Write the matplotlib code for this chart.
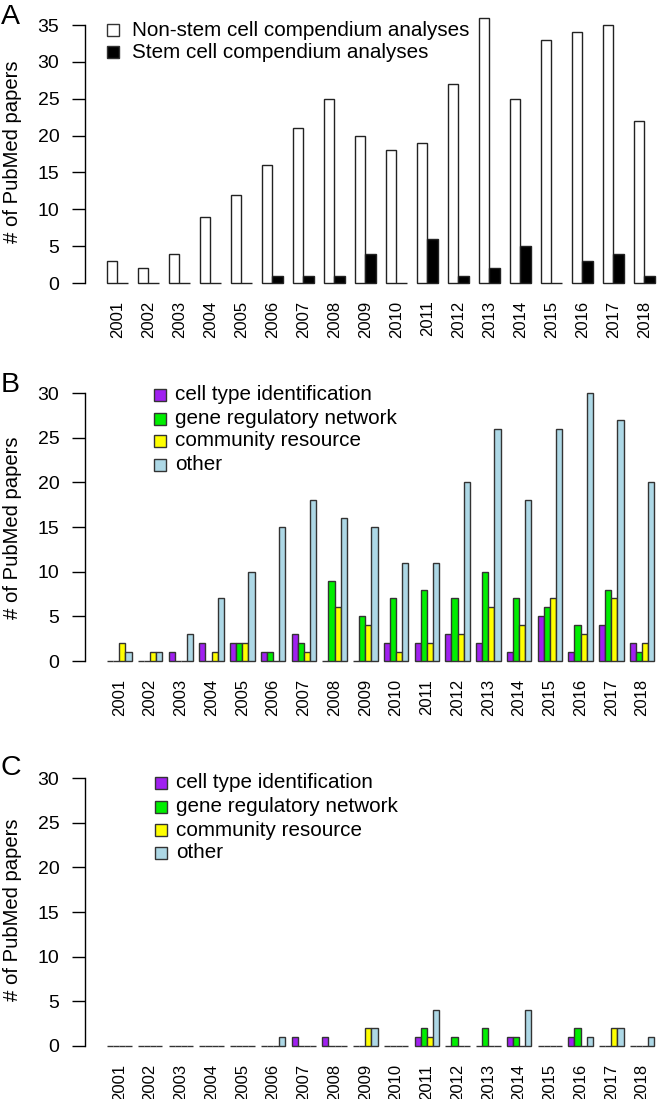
import numpy as np
import matplotlib
matplotlib.use("Agg")
import matplotlib.pyplot as plt
from matplotlib.patches import Rectangle

plt.rcParams["font.family"] = ["Liberation Sans", "DejaVu Sans"]

years = [str(y) for y in range(2001, 2019)]

# panel A
non_stem = [3, 2, 4, 9, 12, 16, 21, 25, 20, 18, 19, 27, 36, 25, 33, 34, 35, 22]
stem = [0, 0, 0, 0, 0, 1, 1, 1, 4, 0, 6, 1, 2, 5, 0, 3, 4, 1]

# panel B (non-stem cell)
cats = ["cell type identification", "gene regulatory network", "community resource", "other"]
b_cell = [0, 0, 1, 2, 2, 1, 3, 0, 0, 2, 2, 3, 2, 1, 5, 1, 4, 2]
b_gene = [0, 0, 0, 0, 2, 1, 2, 9, 5, 7, 8, 7, 10, 7, 6, 4, 8, 1]
b_comm = [2, 1, 0, 1, 2, 0, 1, 6, 4, 1, 2, 3, 6, 4, 7, 3, 7, 2]
b_other = [1, 1, 3, 7, 10, 15, 18, 16, 15, 11, 11, 20, 26, 18, 26, 30, 27, 20]

# panel C (stem cell)
c_cell = [0, 0, 0, 0, 0, 0, 1, 1, 0, 0, 1, 0, 0, 1, 0, 1, 0, 0]
c_gene = [0, 0, 0, 0, 0, 0, 0, 0, 0, 0, 2, 1, 2, 1, 0, 2, 0, 0]
c_comm = [0, 0, 0, 0, 0, 0, 0, 0, 2, 0, 1, 0, 0, 0, 0, 0, 2, 0]
c_other = [0, 0, 0, 0, 0, 1, 0, 0, 2, 0, 4, 0, 0, 4, 0, 1, 2, 1]

cat_colors = ["#A020F0", "#00EE00", "#FFFF00", "#ADD8E6"]

W, H = 657, 1099
fig = plt.figure(figsize=(W / 100, H / 100), dpi=100)


def make_axes(xpx0, xscale, ypx0, yscale, xlim, ylim):
    left = xpx0 + xlim[0] * xscale
    width = (xlim[1] - xlim[0]) * xscale
    bottom_px = ypx0 - ylim[0] * yscale
    height = (ylim[1] - ylim[0]) * yscale
    ax = fig.add_axes([left / W, (H - bottom_px) / H, width / W, height / H])
    ax.set_xlim(*xlim)
    ax.set_ylim(*ylim)
    for s in ["top", "right", "bottom"]:
        ax.spines[s].set_visible(False)
    ax.spines["left"].set_linewidth(1.0)
    ax.patch.set_visible(False)
    return ax


def style_axis(ax, ymax, centers):
    ax.set_yticks(np.arange(0, ymax + 1, 5))
    ax.spines["left"].set_bounds(0, ymax)
    ax.tick_params(axis="y", length=9.5, width=1.0, pad=9, labelsize=14)
    ax.set_xticks(centers)
    ax.set_xticklabels(years, rotation=90, fontsize=12)
    ax.tick_params(axis="x", length=0, pad=10.5)


def square_legend(x_px, ys_px, size, labels, colors, fs, text_x):
    for y, lab, col in zip(ys_px, labels, colors):
        fig.add_artist(Rectangle((x_px / W, (H - y - size / 2) / H), size / W, size / H,
                                 transform=fig.transFigure, facecolor=col,
                                 edgecolor="#333333", linewidth=1.0))
        fig.text(text_x / W, (H - y) / H, lab, fontsize=fs, va="center", ha="left")


# ---- panel A ----
idx = np.arange(len(years))
axA = make_axes(96.7, 10.33, 283, 7.37, (-1.13, 54.2), (-0.4, 37.5))
axA.bar(3 * idx + 1.5, non_stem, width=1, color="white", edgecolor="#222222", linewidth=1.0)
axA.bar(3 * idx + 2.5, stem, width=1, color="black", edgecolor="#222222", linewidth=1.0)
style_axis(axA, 35, 3 * idx + 2)
square_legend(107, [30, 52], 11.5, ["Non-stem cell compendium analyses", "Stem cell compendium analyses"],
              ["white", "black"], 14.9, 132)

# ---- panels B and C ----
for ypx0, series, leg_x, leg_ys, text_x in [
    (661, [b_cell, b_gene, b_comm, b_other], 154, [395, 419, 441, 465], 175),
    (1046, [c_cell, c_gene, c_comm, c_other], 155, [783, 807, 830, 853], 176),
]:
    ax = make_axes(100.85, 6.15, ypx0, 8.93, (-2.58, 90.3), (-0.35, 31.5))
    for k, (vals, col) in enumerate(zip(series, cat_colors)):
        ax.bar(5 * idx + 1.5 + k, vals, width=1, color=col, edgecolor="#333333", linewidth=1.0)
    style_axis(ax, 30, 5 * idx + 3)
    square_legend(leg_x, leg_ys, 12, cats, cat_colors, 14.9, text_x)

# y labels and panel letters
for yc in [152, 528, 910]:
    fig.text(13 / W, (H - yc) / H, "# of PubMed papers", rotation=90, fontsize=14.6,
             ha="center", va="center")
for letter, ytop in [("A", 4), ("B", 372), ("C", 755)]:
    fig.text(1 / W, (H - ytop) / H, letter, fontsize=20.5, ha="left", va="top")

fig.savefig("out.png", dpi=100)
